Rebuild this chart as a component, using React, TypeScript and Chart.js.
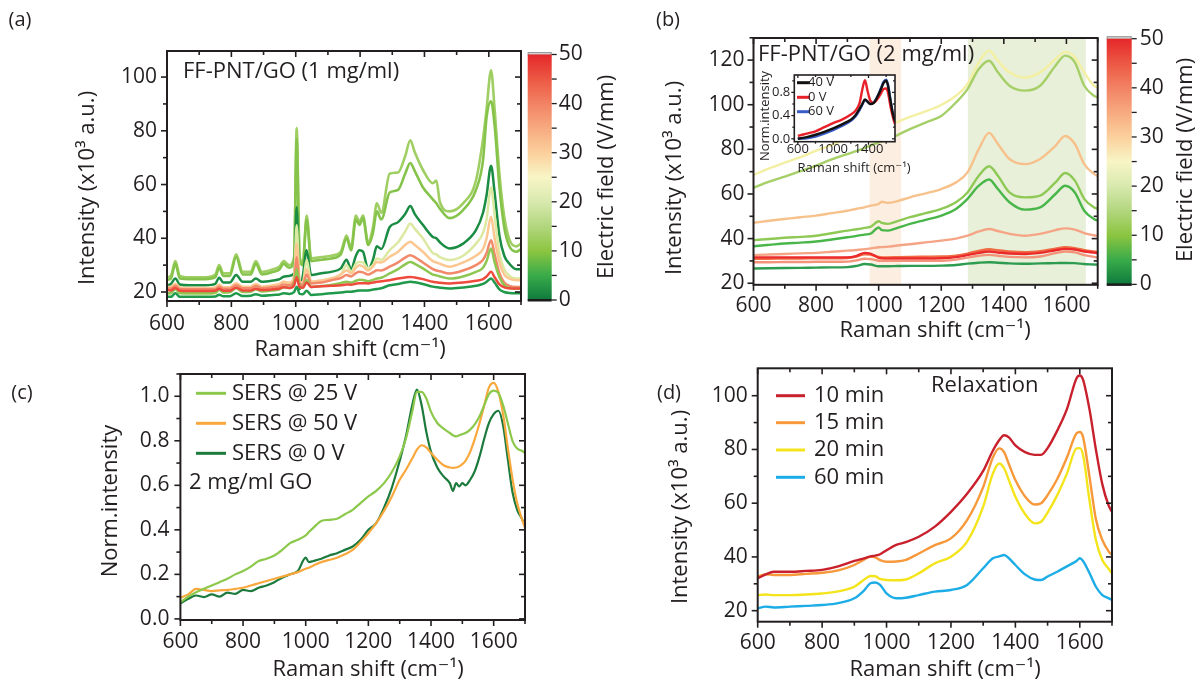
import React, { useEffect, useRef } from 'react';
import { Chart, registerables } from 'chart.js';

Chart.register(...registerables);

const FONT = "'Open Sans', 'DejaVu Sans', sans-serif";
const INK = '#231f20';

// ---------------- data ----------------
const ramanTicks = [600, 800, 1000, 1200, 1400, 1600];
const ramanMinor = [700, 900, 1100, 1300, 1500, 1700];
const intensityTicks = [20, 40, 60, 80, 100];
const intensityMinor = [30, 50, 70, 90];
const intensityTicksB = [20, 40, 60, 80, 100, 120];
const intensityMinorB = [30, 50, 70, 90, 110, 130];
const normTicks = [0, 0.2, 0.4, 0.6, 0.8, 1.0];
const normMinor = [0.1, 0.3, 0.5, 0.7, 0.9, 1.1];
const insetXTicks = [600, 1000, 1400];
const insetXMinor = [800, 1200, 1600];
const insetYTicks = [0, 0.4, 0.8];
const insetYMinor = [0.2, 0.6, 1.0];
const fieldTicks = [0, 10, 20, 30, 40, 50];
const fieldMinor = [5, 15, 25, 35, 45];
const fieldStops = [0, 5, 10, 15, 20, 25, 30, 35, 40, 45, 50];

// panel (a): FF-PNT/GO 1 mg/ml
const xA = [600, 612, 626, 640, 670, 720, 750, 762, 775, 795, 815, 835, 860, 876, 895, 930, 950, 962, 980, 995, 1003, 1012, 1022, 1034, 1048, 1080, 1110, 1140, 1158, 1172, 1187, 1198, 1209, 1225, 1240, 1252, 1266, 1292, 1318, 1340, 1356, 1370, 1395, 1426, 1437, 1448, 1478, 1520, 1560, 1582, 1593, 1607, 1618, 1633, 1648, 1664, 1685, 1700];
const a1 = [25.5, 26, 31.5, 26, 25.5, 25.5, 26.5, 30, 27, 27, 34, 27.5, 27.5, 31.5, 27.5, 28.5, 29.5, 31.5, 30, 33, 81, 33, 31, 48.5, 32.5, 33, 33.5, 35, 41, 36.5, 48.5, 46, 48.5, 38.5, 44, 53, 49.5, 64, 64.5, 70.5, 76.5, 72, 65.5, 60.5, 61.5, 53.5, 50, 53, 61.5, 77, 88, 102.5, 88, 64, 48, 39.5, 37, 38];
const a2 = [24.5, 25, 30.5, 25, 24.8, 24.8, 25.5, 29, 26, 26, 33, 26.5, 26.5, 30.5, 26.5, 27.5, 28.5, 30.5, 29, 32, 77, 32, 30, 47, 31.5, 32, 32.5, 34, 40, 35.5, 47, 45, 47.5, 37.5, 42, 50, 47, 57, 58, 64, 68, 65, 59, 54.5, 53, 51, 47.5, 50.5, 58, 69, 85, 91, 82, 59, 44, 37, 35, 36];
const a3 = [22.5, 23, 25, 22.8, 22.5, 22.5, 23, 25.3, 23.5, 23.5, 26.3, 23.8, 23.8, 25, 23.8, 24.3, 24.8, 25.7, 26, 27, 51.6, 21, 26, 35.5, 26.3, 27, 27.5, 28.8, 32, 28.5, 33.5, 35.5, 35, 28.5, 32, 37, 36, 44.2, 46, 49, 52, 49, 45, 40.5, 40, 38.5, 36.2, 38, 43, 49.5, 56, 67, 57, 41, 33.5, 30.5, 28.5, 28.5];
const a4 = [19.3, 19.5, 21.9, 19.5, 19.3, 19.3, 19.6, 20.8, 19.8, 20, 22.6, 20.3, 20.3, 21.4, 20.5, 21.5, 22.2, 23.8, 23, 26, 44.8, 24, 23.5, 32, 23.8, 24.3, 25, 26.5, 30, 27.5, 30.5, 31.2, 31, 28.8, 30, 32.5, 32, 35.6, 38.5, 42.5, 45.5, 43.5, 40, 34.5, 34, 33, 31.9, 33.5, 38, 42, 47, 59, 48.5, 34.3, 28.5, 26, 25, 25];
const a5 = [21.9, 21.9, 23, 21.7, 21.5, 21.5, 21.7, 22.8, 21.8, 21.8, 23.3, 22, 22, 23, 22, 22.5, 23, 23.8, 23.5, 25, 38, 24, 23.5, 28.5, 23.8, 24.3, 25, 26.5, 28.1, 27, 29, 30, 29.5, 28, 29.5, 31.2, 31, 33.1, 35, 37.5, 38.7, 37.5, 35, 31.5, 31, 30.5, 29.4, 31, 33.5, 36, 40, 48, 40, 31, 26.5, 25, 24.4, 24.4];
const a6 = [21.3, 21.3, 22.3, 21.1, 21, 21, 21.1, 22, 21.2, 21.2, 22.5, 21.4, 21.4, 22.2, 21.4, 21.8, 22.2, 22.8, 22.5, 24, 33, 23, 22.5, 26.5, 23.2, 23.5, 24.4, 25.2, 26.3, 25.8, 27, 27.5, 27.3, 26.5, 27.3, 28.1, 28, 29.4, 31, 32.8, 33.7, 33, 31, 28.5, 28, 27.7, 26.9, 28, 30, 32, 34.5, 39.3, 34, 27, 23.5, 22.3, 21.9, 21.9];
const a7 = [19.5, 19.6, 21, 19.6, 19.5, 19.5, 19.7, 20.8, 19.8, 19.9, 21.5, 20, 20.1, 21, 20.2, 20.6, 21, 21.8, 21.5, 23, 28.5, 22, 21.5, 24.5, 21.9, 22.2, 22.6, 23.3, 23.8, 23.5, 24.2, 24.6, 24.5, 24, 24.5, 25, 25.3, 26.9, 28.5, 30.3, 31.2, 30.5, 28.8, 26.5, 26.2, 25.8, 25, 25.8, 27.5, 29, 31.5, 36.2, 31, 25.5, 22.5, 21.5, 21.3, 21.3];
const a8 = [20.7, 20.6, 21.5, 20.5, 20.4, 20.4, 20.5, 21.2, 20.5, 20.5, 21.6, 20.6, 20.6, 21.2, 20.7, 21, 21.3, 21.8, 21.5, 22.5, 25.5, 21.8, 21.6, 23.5, 21.9, 22.1, 22.3, 22.5, 22.8, 22.7, 23.1, 23.3, 23.3, 23.2, 23.5, 23.8, 24, 24.4, 25, 25.4, 25.6, 25.4, 24.8, 23.8, 23.6, 23.4, 23.2, 23.5, 24.2, 24.8, 25.8, 27.5, 25.5, 22.8, 21.7, 21.4, 21.3, 21.3];
const a9 = [18.2, 18.2, 19.5, 18.2, 18.2, 18.2, 18.3, 19, 18.4, 18.4, 19.5, 18.5, 18.6, 19.2, 18.6, 18.9, 19.1, 19.5, 19.3, 20, 22, 19.3, 19.2, 20.5, 18.9, 19.2, 19.5, 19.8, 20.1, 20.1, 20.4, 20.6, 20.6, 20.6, 20.9, 21.1, 21.4, 22.5, 23, 23.5, 23.8, 23.6, 23, 22, 21.8, 21.6, 21.3, 21.7, 22.3, 23, 23.8, 25, 23.5, 21, 20, 19.6, 19.5, 19.5];

// panel (b): FF-PNT/GO 2 mg/ml
const xB = [600, 650, 700, 750, 800, 850, 900, 930, 955, 975, 1000, 1010, 1030, 1060, 1100, 1150, 1200, 1247, 1284, 1320, 1353, 1381, 1418, 1467, 1516, 1565, 1596, 1627, 1657, 1688, 1700];
const b1 = [68.5, 71.5, 74, 76.5, 79.4, 82, 84.6, 86, 87.3, 88, 89.3, 89.8, 90.8, 92.3, 94.5, 97, 99.9, 104, 109.3, 119, 124.2, 119.7, 114.5, 112.2, 114.5, 120.4, 123.7, 121.2, 114.5, 108.5, 107.8];
const b2 = [62.8, 65.5, 67.8, 70.2, 72.7, 75.5, 77.9, 79.3, 80.6, 81.8, 83.1, 83.6, 84.6, 86.4, 89.1, 92, 95, 101, 107, 116, 119.7, 114.5, 108.5, 106.3, 108.5, 117.5, 122, 119, 108.5, 104, 103.3];
const b3 = [47.1, 48, 48.8, 49.6, 50.3, 51.4, 52.5, 53.4, 54, 54.8, 55.5, 56.5, 56, 56.8, 58.5, 60.3, 62.2, 65.2, 69.7, 80.1, 87.4, 82.4, 75.7, 73.4, 75.7, 81.6, 86, 82.4, 73.4, 69, 68];
const b4 = [39.3, 39.8, 40.4, 40.8, 41.3, 42.4, 43.6, 44.2, 44.8, 45.4, 47.8, 47, 46.6, 47.8, 49.6, 51.4, 53.3, 56.3, 60.7, 68.2, 72.4, 68.2, 60.7, 58.5, 59.3, 65.2, 69.4, 66, 57.8, 54, 53.3];
const b5 = [36.6, 37.2, 37.8, 38.2, 38.7, 39.6, 40.6, 41.2, 41.8, 42.3, 45, 43.8, 43.6, 44.8, 46.6, 48.4, 50.3, 53.3, 57.8, 63.7, 66.5, 62.2, 56.3, 53, 54, 60, 63.7, 60.7, 52.5, 48.8, 48];
const b6 = [32.6, 32.9, 33.1, 33.4, 33.6, 34.1, 34.6, 34.9, 35.3, 35.6, 36.1, 36.2, 36.4, 36.9, 37.5, 38.3, 39.1, 40, 41.3, 43.2, 44.3, 43.4, 42.1, 41.3, 42.1, 43.8, 44.6, 44, 42.5, 41.5, 41.2];
const b7 = [31, 31, 31.1, 31.1, 31.2, 31.2, 31.3, 32, 33, 32.8, 31.8, 31.6, 31.6, 31.7, 31.8, 31.9, 32, 32.4, 33.3, 34.5, 35.2, 34.8, 34.2, 33.9, 34.4, 35.5, 36.1, 35.7, 34.8, 34.2, 34];
const b8 = [31.6, 31.6, 31.6, 31.6, 31.6, 31.6, 31.6, 32.3, 33.6, 33.2, 31.4, 31.2, 31.1, 31.1, 31.1, 31.1, 31.2, 31.7, 32.6, 33.6, 34.2, 33.8, 33.3, 33.1, 33.6, 34.8, 35.4, 35.1, 34.2, 33.7, 33.5];
const b9 = [29.4, 29.4, 29.5, 29.5, 29.6, 29.6, 29.7, 30.3, 31, 30.8, 30.1, 30, 30, 30, 30, 30, 30.1, 30.6, 31.5, 32.3, 32.7, 32.3, 31.8, 31.6, 32, 33.5, 34.2, 33.8, 32.6, 31.8, 31.5];
const b10 = [26.6, 26.7, 26.8, 26.9, 27, 27.1, 27.2, 27.8, 28.6, 28.4, 27.6, 27.6, 27.6, 27.7, 27.8, 27.8, 27.9, 28.2, 28.8, 29.2, 29.4, 29.2, 28.9, 28.7, 28.9, 29, 29.1, 29, 28.6, 28.4, 28.3];
const bandD1 = [971, 1072];
const bandD2 = [1285, 1662];

// inset of (b)
const xI = [600, 700, 800, 900, 1000, 1100, 1200, 1250, 1300, 1330, 1360, 1390, 1420, 1460, 1500, 1540, 1570, 1600, 1620, 1650, 1680, 1700];
const inset40 = [0.0, 0.03, 0.07, 0.12, 0.18, 0.25, 0.33, 0.4, 0.52, 0.6, 0.68, 0.64, 0.6, 0.62, 0.72, 0.85, 0.96, 1.0, 0.92, 0.65, 0.4, 0.3];
const inset0 = [0.05, 0.09, 0.13, 0.2, 0.27, 0.33, 0.42, 0.48, 0.62, 0.85, 1.01, 0.82, 0.66, 0.62, 0.68, 0.78, 0.86, 0.87, 0.8, 0.55, 0.35, 0.25];
const inset60 = [0.0, 0.01, 0.04, 0.09, 0.15, 0.22, 0.31, 0.38, 0.5, 0.59, 0.67, 0.64, 0.6, 0.63, 0.73, 0.87, 0.98, 1.02, 0.94, 0.66, 0.4, 0.3];

// panel (c)
const xC = [600, 625, 650, 675, 700, 725, 750, 775, 800, 825, 850, 875, 900, 925, 950, 975, 1000, 1010, 1025, 1050, 1075, 1100, 1125, 1150, 1175, 1200, 1225, 1250, 1275, 1300, 1320, 1340, 1355, 1370, 1385, 1400, 1420, 1440, 1460, 1470, 1480, 1490, 1500, 1510, 1525, 1540, 1555, 1570, 1585, 1600, 1615, 1630, 1645, 1660, 1675, 1690, 1700];
const c25 = [0.075, 0.1, 0.12, 0.135, 0.15, 0.165, 0.18, 0.2, 0.215, 0.235, 0.26, 0.27, 0.285, 0.31, 0.34, 0.355, 0.375, 0.39, 0.41, 0.44, 0.445, 0.45, 0.47, 0.49, 0.52, 0.55, 0.575, 0.61, 0.66, 0.73, 0.81, 0.93, 1.02, 1.02, 0.99, 0.93, 0.88, 0.855, 0.835, 0.825, 0.82, 0.825, 0.83, 0.835, 0.85, 0.875, 0.91, 0.96, 1.01, 1.025, 1.015, 0.96, 0.88, 0.8, 0.765, 0.755, 0.745];
const c50 = [0.095, 0.11, 0.135, 0.13, 0.125, 0.128, 0.13, 0.135, 0.14, 0.15, 0.16, 0.17, 0.18, 0.19, 0.2, 0.21, 0.225, 0.23, 0.24, 0.255, 0.265, 0.275, 0.29, 0.31, 0.345, 0.385, 0.43, 0.485, 0.55, 0.625, 0.67, 0.72, 0.76, 0.78, 0.77, 0.745, 0.715, 0.69, 0.68, 0.678, 0.68, 0.685, 0.695, 0.71, 0.75, 0.81, 0.88, 0.96, 1.04, 1.06, 1.02, 0.92, 0.77, 0.63, 0.52, 0.45, 0.41];
const c0 = [0.07, 0.09, 0.105, 0.098, 0.11, 0.1, 0.118, 0.112, 0.13, 0.125, 0.14, 0.15, 0.165, 0.185, 0.2, 0.215, 0.275, 0.255, 0.26, 0.27, 0.285, 0.295, 0.31, 0.325, 0.355, 0.4, 0.43, 0.5, 0.59, 0.71, 0.82, 0.96, 1.03, 0.96, 0.84, 0.75, 0.68, 0.64, 0.61, 0.575, 0.61, 0.595, 0.61, 0.6, 0.625, 0.665, 0.73, 0.81, 0.88, 0.92, 0.935, 0.87, 0.72, 0.57, 0.49, 0.45, 0.42];

// panel (d): relaxation
const xD = [600, 625, 650, 700, 750, 800, 850, 900, 930, 950, 965, 980, 1000, 1030, 1060, 1100, 1150, 1200, 1250, 1300, 1330, 1350, 1365, 1380, 1400, 1430, 1460, 1480, 1500, 1530, 1560, 1590, 1600, 1610, 1630, 1650, 1670, 1690, 1700];
const d10 = [32, 33.5, 34.5, 34.5, 34.8, 35.2, 36.5, 38.5, 39.5, 40.2, 40.5, 41, 42.5, 44.5, 45.5, 47.5, 51.3, 56.8, 63.5, 72, 79.5, 83.5, 85.3, 84.5, 81.5, 79, 78, 78, 80.5, 87, 95, 106.5, 107.5, 106, 95, 80, 67, 59, 56.8];
const d15 = [32.7, 33.5, 33.3, 33.3, 33.7, 34.1, 35, 37, 39, 40.1, 39.8, 38.8, 38.2, 38.3, 38.9, 41.3, 44.4, 46.9, 53.7, 66, 77, 80.4, 79, 74.5, 68.6, 62.5, 59.5, 60, 63, 69, 77, 86, 86.5, 84.7, 70, 54, 46.3, 42, 40.7];
const d20 = [25.8, 26, 25.8, 25.8, 26, 26.4, 27.2, 28.9, 31.5, 32.9, 32.8, 31.8, 31.4, 31.3, 31.6, 33.9, 37.6, 40.1, 45.7, 58.7, 71, 74.8, 73, 68.5, 62.4, 56, 52.5, 53.1, 56.5, 63, 71, 80.4, 80.5, 78, 61.2, 46.3, 38.9, 35.5, 33.9];
const d60 = [20.9, 21.5, 21.2, 21.5, 21.8, 22.1, 22.8, 24.6, 27.5, 30.2, 30.5, 29.6, 26.4, 24.6, 24.8, 25.8, 27.1, 27.7, 29.6, 35.8, 39.5, 40.2, 40.7, 39.5, 37, 33.5, 31.6, 31.4, 32.7, 34.5, 36.5, 38.5, 39.5, 38.5, 34, 28.9, 25.8, 24.6, 24];

// ---------------- helpers ----------------
type Box = { left: number; top: number; width: number; height: number };
type Area = { l: number; t: number; r: number; b: number };
type TextItem = { text: string; x: number; y: number; size: number; rot?: boolean; align?: CanvasTextAlign };
type AxisSpec = { min: number; max: number; ticks: number[]; minor: number[]; pad: number; fmt?: (v: number) => string };
type LegendSpec = { x1: number; x2: number; tx: number; ys: number[]; size: number; lw: number };
type FrameSpec = { lw: number; len: number; minorLen: number };
type PanelSpec = {
  box: Box; area: Area; x: AxisSpec; y: AxisSpec; tickSize: number;
  datasets: any[]; texts: TextItem[]; frame: FrameSpec;
  legend?: LegendSpec; bands?: { from: number; to: number; color: string }[]; fill?: string;
};

const pts = (xs: number[], ys: number[]) => xs.map((x, i) => ({ x, y: ys[i] }));
const line = (label: string, xs: number[], ys: number[], color: string, width: number) => ({
  label, data: pts(xs, ys), borderColor: color, backgroundColor: color, borderWidth: width,
  pointRadius: 0, fill: false, cubicInterpolationMode: 'monotone',
});

function drawText(ctx: CanvasRenderingContext2D, t: TextItem, box: Box) {
  ctx.save();
  ctx.font = `${t.size}px ${FONT}`;
  ctx.fillStyle = INK;
  ctx.textAlign = t.align || 'center';
  ctx.textBaseline = 'middle';
  ctx.translate(t.x - box.left, t.y - box.top);
  if (t.rot) ctx.rotate(-Math.PI / 2);
  ctx.fillText(t.text, 0, 0);
  ctx.restore();
}

function panelConfig(s: PanelSpec): any {
  const yW = s.area.l - s.box.left;
  const xH = s.box.top + s.box.height - s.area.b;
  const plugin = {
    id: 'decor',
    beforeDatasetsDraw(chart: any) {
      const { ctx, chartArea: a } = chart;
      const sx = chart.scales.x;
      ctx.save();
      if (s.fill) {
        ctx.fillStyle = s.fill;
        ctx.fillRect(a.left, a.top, a.right - a.left, a.bottom - a.top);
      }
      (s.bands || []).forEach((b) => {
        const x1 = sx.getPixelForValue(b.from);
        const x2 = sx.getPixelForValue(b.to);
        ctx.fillStyle = b.color;
        ctx.fillRect(x1, a.top, x2 - x1, a.bottom - a.top);
      });
      ctx.restore();
    },
    afterDatasetsDraw(chart: any) {
      const { ctx, chartArea: a } = chart;
      const sx = chart.scales.x;
      const sy = chart.scales.y;
      const f = s.frame;
      ctx.save();
      ctx.strokeStyle = INK;
      ctx.lineWidth = f.lw;
      ctx.strokeRect(a.left, a.top, a.right - a.left, a.bottom - a.top);
      const seg = (x1: number, y1: number, x2: number, y2: number) => {
        ctx.beginPath(); ctx.moveTo(x1, y1); ctx.lineTo(x2, y2); ctx.stroke();
      };
      ctx.lineWidth = Math.max(1.2, f.lw * 0.8);
      const xs: [number, number][] = [...s.x.ticks.map((v) => [v, f.len] as [number, number]), ...s.x.minor.map((v) => [v, f.minorLen] as [number, number])];
      xs.forEach(([v, L]) => {
        const p = sx.getPixelForValue(v);
        if (p < a.left - 0.5 || p > a.right + 0.5) return;
        seg(p, a.bottom, p, a.bottom + L);
        seg(p, a.top, p, a.top + L);
      });
      const ys: [number, number][] = [...s.y.ticks.map((v) => [v, f.len] as [number, number]), ...s.y.minor.map((v) => [v, f.minorLen] as [number, number])];
      ys.forEach(([v, L]) => {
        const p = sy.getPixelForValue(v);
        if (p < a.top - 0.5 || p > a.bottom + 0.5) return;
        seg(a.left, p, a.left - L, p);
        seg(a.right, p, a.right - L, p);
      });
      if (s.legend) {
        const lg = s.legend;
        chart.data.datasets.forEach((d: any, i: number) => {
          const y = lg.ys[i] - s.box.top;
          ctx.strokeStyle = d.borderColor;
          ctx.lineWidth = lg.lw;
          seg(lg.x1 - s.box.left, y, lg.x2 - s.box.left, y);
          drawText(ctx, { text: d.label, x: lg.tx, y: lg.ys[i], size: lg.size, align: 'left' }, s.box);
        });
      }
      ctx.restore();
      s.texts.forEach((t) => drawText(ctx, t, s.box));
    },
  };
  const axis = (ax: AxisSpec, pos: string, horizontal: boolean) => ({
    type: 'linear', position: pos, min: ax.min, max: ax.max,
    grid: { display: false, drawTicks: false },
    border: { display: false },
    ticks: {
      autoSkip: false, maxRotation: 0, minRotation: 0, padding: ax.pad, color: INK,
      font: { family: FONT, size: s.tickSize },
      callback: (v: any) => (ax.fmt ? ax.fmt(Number(v)) : String(v)),
    },
    afterBuildTicks: (sc: any) => { sc.ticks = ax.ticks.map((v) => ({ value: v })); },
    afterFit: (sc: any) => { if (horizontal) sc.height = xH; else sc.width = yW; },
  });
  return {
    type: 'line',
    data: { datasets: s.datasets },
    options: {
      responsive: false, animation: false, devicePixelRatio: 1,
      layout: { padding: { left: 0, bottom: 0, top: s.area.t - s.box.top, right: s.box.left + s.box.width - s.area.r } },
      plugins: { legend: { display: false }, tooltip: { enabled: false }, title: { display: false } },
      scales: { x: axis(s.x, 'bottom', true), y: axis(s.y, 'left', false) },
    },
    plugins: [plugin],
  };
}

type ColorbarSpec = { box: Box; area: Area; cap: number; title: TextItem; colors: string[]; pad: number };

function colorbarConfig(s: ColorbarSpec): any {
  const rW = s.box.left + s.box.width - s.area.r;
  const plugin = {
    id: 'cbar',
    beforeDatasetsDraw(chart: any) {
      const { ctx, chartArea: a } = chart;
      const sy = chart.scales.y;
      ctx.save();
      const g = ctx.createLinearGradient(0, a.bottom, 0, a.top);
      fieldStops.forEach((v, i) => g.addColorStop(v / 50, s.colors[i]));
      ctx.fillStyle = '#d0d0d0';
      ctx.fillRect(a.left, a.top - s.cap, a.right - a.left, s.cap);
      ctx.strokeStyle = '#9a9a9a';
      ctx.lineWidth = 1;
      ctx.strokeRect(a.left + 0.5, a.top - s.cap + 0.5, a.right - a.left - 1, s.cap);
      ctx.fillStyle = g;
      ctx.fillRect(a.left, a.top, a.right - a.left, a.bottom - a.top);
      ctx.fillStyle = '#1b1b1b';
      ctx.fillRect(a.left, a.bottom - 1, a.right - a.left, 2.5);
      ctx.strokeStyle = INK;
      ctx.lineWidth = 1.3;
      [...fieldTicks, ...fieldMinor].forEach((v) => {
        const p = sy.getPixelForValue(v);
        ctx.beginPath(); ctx.moveTo(a.right, p); ctx.lineTo(a.right + 5, p); ctx.stroke();
      });
      ctx.restore();
      drawText(ctx, s.title, s.box);
    },
  };
  return {
    type: 'scatter',
    data: { datasets: [] },
    options: {
      responsive: false, animation: false, devicePixelRatio: 1,
      layout: { padding: { left: s.area.l - s.box.left, top: s.area.t - s.box.top, right: 0, bottom: s.box.top + s.box.height - s.area.b } },
      plugins: { legend: { display: false }, tooltip: { enabled: false } },
      scales: {
        x: { type: 'linear', display: false, min: 0, max: 1 },
        y: {
          type: 'linear', position: 'right', min: 0, max: 50,
          grid: { display: false, drawTicks: false }, border: { display: false },
          ticks: { padding: s.pad, color: INK, font: { family: FONT, size: 21 }, autoSkip: false },
          afterBuildTicks: (sc: any) => { sc.ticks = fieldTicks.map((v) => ({ value: v })); },
          afterFit: (sc: any) => { sc.width = rW; },
        },
      },
    },
    plugins: [plugin],
  };
}

function ChartCanvas({ box, make }: { box: Box; make: () => any }) {
  const ref = useRef<HTMLCanvasElement | null>(null);
  useEffect(() => {
    if (!ref.current) return;
    const chart = new Chart(ref.current, make());
    return () => chart.destroy();
  }, []);
  return (
    <canvas ref={ref} width={box.width} height={box.height}
      style={{ position: 'absolute', left: box.left, top: box.top, width: box.width, height: box.height }} />
  );
}

// ---------------- panel specs ----------------
const fieldColors = ['#0f7a3d', '#3aab4a', '#8cc540', '#b2d67e', '#d8e9ae', '#f8f5c6', '#fbd09c', '#f7aa80', '#f28263', '#ec5843', '#e5272a'];
const fmt1 = (v: number) => v.toFixed(1);

const specA: PanelSpec = {
  box: { left: 0, top: 0, width: 600, height: 365 },
  area: { l: 167, t: 51, r: 521, b: 301 },
  x: { min: 600, max: 1700, ticks: ramanTicks, minor: ramanMinor, pad: 10 },
  y: { min: 16.65, max: 109.7, ticks: intensityTicks, minor: intensityMinor, pad: 10 },
  tickSize: 21,
  frame: { lw: 2, len: 6, minorLen: 4 },
  datasets: [
    line('trace 9', xA, a9, '#21994b', 2.5),
    line('trace 8', xA, a8, '#ee4b3c', 2.5),
    line('trace 7', xA, a7, '#8dc752', 2.5),
    line('trace 6', xA, a6, '#f2896b', 2.5),
    line('trace 5', xA, a5, '#fcc791', 2.5),
    line('trace 4', xA, a4, '#dce9a2', 2.5),
    line('trace 3', xA, a3, '#1b8c44', 2.5),
    line('trace 2', xA, a2, '#86c34b', 2.6),
    line('trace 1', xA, a1, '#9fce63', 2.6),
  ],
  texts: [
    { text: '(a)', x: 20, y: 20, size: 20 },
    { text: 'FF-PNT/GO (1 mg/ml)', x: 183, y: 72, size: 22, align: 'left' },
    { text: 'Intensity (x10³ a.u.)', x: 88, y: 188, size: 22, rot: true },
    { text: 'Raman shift (cm⁻¹)', x: 350, y: 350, size: 22 },
  ],
};

const cbA: ColorbarSpec = {
  box: { left: 520, top: 28, width: 110, height: 305 },
  area: { l: 527.7, t: 54.5, r: 551.7, b: 300 },
  cap: 2.5, pad: 7, colors: fieldColors,
  title: { text: 'Electric field (V/mm)', x: 607, y: 177, size: 22, rot: true },
};

const specB: PanelSpec = {
  box: { left: 640, top: 0, width: 470, height: 365 },
  area: { l: 753.5, t: 38, r: 1097.7, b: 284.8 },
  x: { min: 600, max: 1700, ticks: ramanTicks, minor: ramanMinor, pad: 9 },
  y: { min: 19.3, max: 129.9, ticks: intensityTicksB, minor: intensityMinorB, pad: 9 },
  tickSize: 21,
  frame: { lw: 2, len: 6, minorLen: 4 },
  bands: [
    { from: bandD1[0], to: bandD1[1], color: '#fcefe1' },
    { from: bandD2[0], to: bandD2[1], color: '#e8f0da' },
  ],
  datasets: [
    line('trace 10', xB, b10, '#2e9c50', 2.4),
    line('trace 9', xB, b9, '#f3937a', 2.4),
    line('trace 8', xB, b8, '#ec2a2c', 2.4),
    line('trace 7', xB, b7, '#ef6b43', 2.4),
    line('trace 6', xB, b6, '#f5a586', 2.4),
    line('trace 5', xB, b5, '#48b649', 2.4),
    line('trace 4', xB, b4, '#8ec956', 2.4),
    line('trace 3', xB, b3, '#f7c18c', 2.4),
    line('trace 2', xB, b2, '#a6cf68', 2.4),
    line('trace 1', xB, b1, '#f3efa3', 2.4),
  ],
  texts: [
    { text: '(b)', x: 668, y: 20, size: 20 },
    { text: 'FF-PNT/GO (2 mg/ml)', x: 758, y: 55, size: 22, align: 'left' },
    { text: 'Intensity (x10³ a.u.)', x: 675, y: 178, size: 22, rot: true },
    { text: 'Raman shift (cm⁻¹)', x: 935, y: 331, size: 22 },
  ],
};

const cbB: ColorbarSpec = {
  box: { left: 1098, top: 15, width: 103, height: 290 },
  area: { l: 1106.7, t: 38.7, r: 1131.7, b: 285 },
  cap: 2.5, pad: 8, colors: fieldColors,
  title: { text: 'Electric field (V/mm)', x: 1186, y: 160, size: 22, rot: true },
};

const specInset: PanelSpec = {
  box: { left: 750, top: 55, width: 170, height: 125 },
  area: { l: 794.3, t: 75, r: 895, b: 141.7 },
  x: { min: 560, max: 1700, ticks: insetXTicks, minor: insetXMinor, pad: 0 },
  y: { min: -0.05, max: 1.1, ticks: insetYTicks, minor: insetYMinor, pad: 4, fmt: fmt1 },
  tickSize: 13,
  frame: { lw: 1.6, len: 3, minorLen: 2 },
  fill: '#ffffff',
  legend: { x1: 797, x2: 810, tx: 808, ys: [82.7, 97.3, 111.7], size: 13, lw: 3 },
  datasets: [
    line('40 V', xI, inset40, '#111111', 2.4),
    line('0 V', xI, inset0, '#e8202a', 2.4),
    line('60 V', xI, inset60, '#3a5cc6', 2.4),
  ],
  texts: [
    { text: 'Norm.intensity', x: 765, y: 116, size: 13, rot: true },
    { text: 'Raman shift (cm⁻¹)', x: 854, y: 168, size: 13 },
  ],
};

const specC: PanelSpec = {
  box: { left: 0, top: 345, width: 600, height: 336 },
  area: { l: 180.4, t: 374, r: 525, b: 620 },
  x: { min: 600, max: 1700, ticks: ramanTicks, minor: ramanMinor, pad: 9 },
  y: { min: -0.005, max: 1.1, ticks: normTicks, minor: normMinor, pad: 11, fmt: fmt1 },
  tickSize: 21,
  frame: { lw: 2, len: 6, minorLen: 4 },
  legend: { x1: 196, x2: 226, tx: 232, ys: [393.3, 423.3, 453.3], size: 22, lw: 3 },
  datasets: [
    line('SERS @ 25 V', xC, c25, '#8cc84b', 2.2),
    line('SERS @ 50 V', xC, c50, '#f8a83c', 2.2),
    line('SERS @ 0 V', xC, c0, '#1b7a3c', 2.2),
  ],
  texts: [
    { text: '(c)', x: 22, y: 393, size: 20 },
    { text: '2 mg/ml GO', x: 189, y: 483, size: 22, align: 'left' },
    { text: 'Norm.intensity', x: 111, y: 501, size: 22, rot: true },
    { text: 'Raman shift (cm⁻¹)', x: 368, y: 670, size: 22 },
  ],
};

const specD: PanelSpec = {
  box: { left: 600, top: 345, width: 601, height: 336 },
  area: { l: 757.7, t: 368.3, r: 1112, b: 621.7 },
  x: { min: 600, max: 1700, ticks: ramanTicks, minor: ramanMinor, pad: 9 },
  y: { min: 15.9, max: 110.2, ticks: intensityTicks, minor: intensityMinor, pad: 10 },
  tickSize: 21,
  frame: { lw: 2, len: 6, minorLen: 4 },
  legend: { x1: 776, x2: 805, tx: 814, ys: [395.7, 422.7, 450, 477.3], size: 22, lw: 3 },
  datasets: [
    line('10 min', xD, d10, '#c8202c', 2.4),
    line('15 min', xD, d15, '#f7983a', 2.4),
    line('20 min', xD, d20, '#f4e41c', 2.4),
    line('60 min', xD, d60, '#1cade6', 2.4),
  ],
  texts: [
    { text: '(d)', x: 669, y: 393, size: 20 },
    { text: 'Relaxation', x: 931, y: 386, size: 22, align: 'left' },
    { text: 'Intensity (x10³ a.u.)', x: 681, y: 507, size: 22, rot: true },
    { text: 'Raman shift (cm⁻¹)', x: 945, y: 670, size: 22 },
  ],
};

export default function App() {
  return (
    <div style={{ position: 'absolute', left: 0, top: 0, width: 1201, height: 681, background: '#ffffff', overflow: 'hidden' }}>
      <ChartCanvas box={specA.box} make={() => panelConfig(specA)} />
      <ChartCanvas box={specC.box} make={() => panelConfig(specC)} />
      <ChartCanvas box={specD.box} make={() => panelConfig(specD)} />
      <ChartCanvas box={specB.box} make={() => panelConfig(specB)} />
      <ChartCanvas box={cbA.box} make={() => colorbarConfig(cbA)} />
      <ChartCanvas box={cbB.box} make={() => colorbarConfig(cbB)} />
      <ChartCanvas box={specInset.box} make={() => panelConfig(specInset)} />
    </div>
  );
}
